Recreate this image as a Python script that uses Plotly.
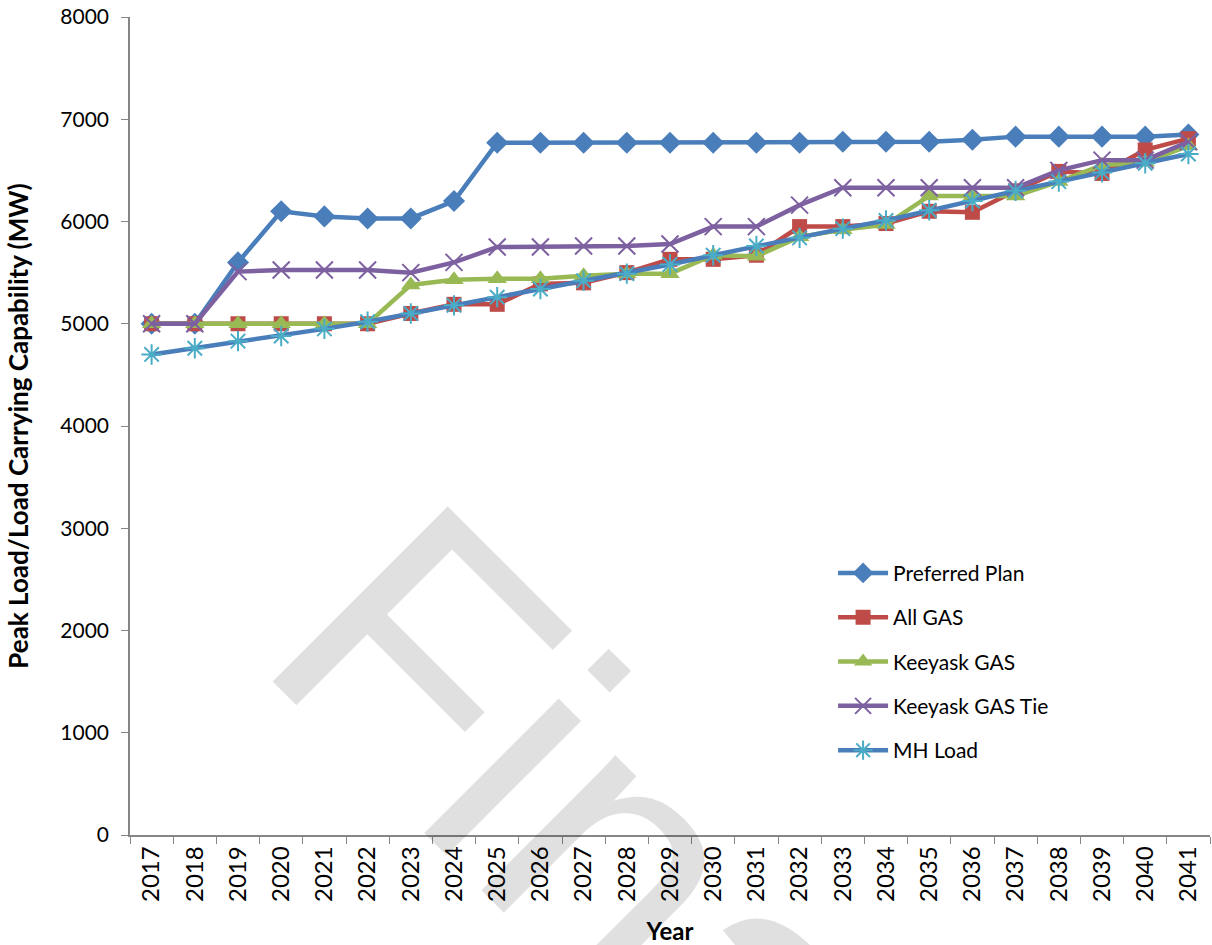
import plotly.graph_objects as go

# Planning years on the category axis
years = [str(y) for y in range(2017, 2042)]

# Capability / load values in MW
preferred_plan = [5000, 5000, 5600, 6100, 6050, 6030, 6030, 6200, 6770, 6770,
                  6770, 6770, 6770, 6770, 6770, 6770, 6780, 6780, 6780, 6800,
                  6830, 6830, 6830, 6830, 6850]
all_gas = [5000, 5000, 5000, 5000, 5000, 5000, 5100, 5190, 5190, 5390,
           5400, 5500, 5630, 5630, 5670, 5950, 5950, 5980, 6100, 6090,
           6300, 6490, 6470, 6700, 6810]
keeyask_gas = [5000, 5000, 5000, 5000, 5000, 5000, 5380, 5430, 5440, 5440,
               5470, 5490, 5490, 5670, 5660, 5850, 5920, 5970, 6250, 6250,
               6250, 6390, 6550, 6580, 6740]
keeyask_gas_tie = [5000, 5000, 5510, 5525, 5525, 5525, 5500, 5600, 5750, 5750,
                   5760, 5760, 5780, 5950, 5950, 6160, 6330, 6330, 6330, 6330,
                   6330, 6500, 6600, 6600, 6780]
mh_load = [4700, 4760, 4830, 4880, 4950, 5020, 5100, 5180, 5260, 5340,
           5420, 5490, 5580, 5670, 5760, 5840, 5930, 6010, 6110, 6200,
           6300, 6390, 6480, 6570, 6660]

series = [
    ("Preferred Plan", preferred_plan, "#4A7EBB", dict(symbol="diamond", size=17, color="#4A7EBB")),
    ("All GAS", all_gas, "#BE4B48", dict(symbol="square", size=15, color="#BE4B48")),
    ("Keeyask GAS", keeyask_gas, "#98B954", dict(symbol="triangle-up", size=17, color="#98B954")),
    ("Keeyask GAS Tie", keeyask_gas_tie, "#7D60A0",
     dict(symbol="x-thin-open", size=17, color="#7D60A0", line=dict(width=2, color="#7D60A0"))),
    ("MH Load", mh_load, "#4A7EBB",
     dict(symbol="asterisk-open", size=17, color="#4BACC6", line=dict(width=2, color="#4BACC6"))),
]

FONT = "Lato"

fig = go.Figure()
for name, vals, lc, mk in series:
    fig.add_trace(go.Scatter(
        x=years, y=vals, name=name, mode="lines+markers",
        line=dict(color=lc, width=4.5), marker=mk, legendgroup=name,
    ))

axis_grey = "#868686"
fig.update_layout(
    width=1212, height=945,
    margin=dict(l=130, r=2, t=17, b=110),
    paper_bgcolor="white", plot_bgcolor="white",
    font=dict(family=FONT, color="black", size=20),
    showlegend=True,
    legend=dict(
        x=0.651, y=0.345, xanchor="left", yanchor="top",
        font=dict(family=FONT, size=21, color="black"),
        tracegroupgap=14, bgcolor="rgba(0,0,0,0)", itemwidth=50,
    ),
    xaxis=dict(
        type="category", range=[-0.5, 24.5], showgrid=False,
        showline=True, linecolor=axis_grey, linewidth=1.5,
        ticks="outside", tickson="boundaries", ticklen=7, tickcolor=axis_grey,
        tickangle=-90, tickfont=dict(family=FONT, size=24),
        title=dict(text="<b>Year</b>", font=dict(family=FONT, size=24), standoff=22),
    ),
    yaxis=dict(
        range=[0, 8000], dtick=1000, showgrid=False, zeroline=False,
        showline=True, linecolor=axis_grey, linewidth=1.5,
        ticks="outside", ticklen=7, tickcolor=axis_grey, ticklabelstandoff=8,
        tickfont=dict(family=FONT, size=21),
        title=dict(text="<b>Peak Load/Load Carrying Capability (MW)</b>",
                   font=dict(family=FONT, size=26), standoff=24),
    ),
)

# Diagonal "Final" stamp across the lower part of the chart
fig.add_annotation(
    text="Final", xref="paper", yref="paper", x=0.45, y=-0.53,
    showarrow=False, textangle=45,
    font=dict(family="Liberation Sans", size=360, color="rgba(0,0,0,0.12)"),
)

fig.write_html("out.html")
